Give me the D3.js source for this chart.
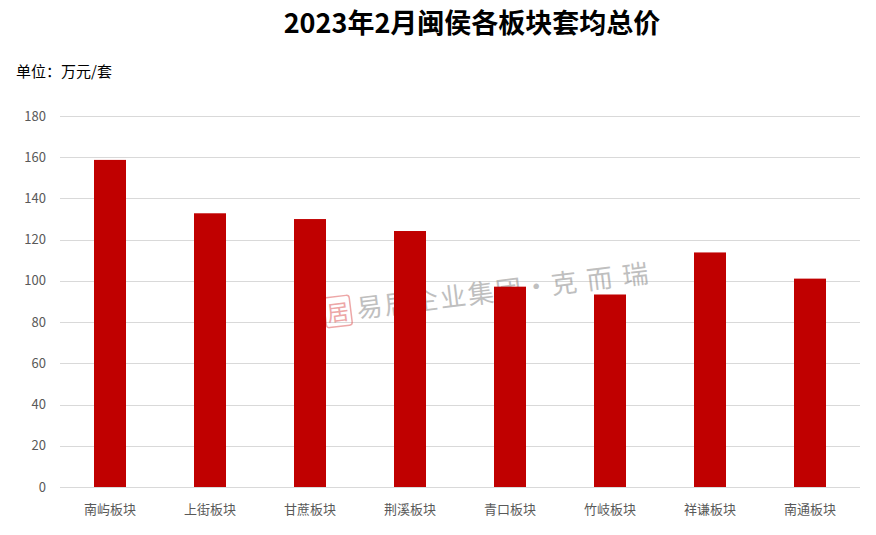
<!DOCTYPE html>
<html>
<head>
<meta charset="utf-8">
<script src="https://cdn.jsdelivr.net/npm/d3@7"></script>
<style>
  body { margin: 0; background: #fff; }
  svg { display: block; font-family: "Noto Sans CJK SC", "Noto Sans", sans-serif; }
</style>
</head>
<body>
<svg id="chart" width="876" height="535"></svg>
<script>
// data
var categories = ['南屿板块', '上街板块', '甘蔗板块', '荆溪板块', '青口板块', '竹岐板块', '祥谦板块', '南通板块'];
var values = [158.7, 132.8, 130.0, 124.2, 97.2, 93.4, 113.8, 101.1];
var yTicks = [0, 20, 40, 60, 80, 100, 120, 140, 160, 180];

var svg = d3.select('#chart');
// note: "top" is taken by window.top, so plotTop etc.
var plotLeft = 60, plotRight = 860, plotTop = 116, plotBottom = 487;

var x = d3.scaleBand()
  .domain(categories)
  .range([plotLeft, plotRight])
  .paddingInner(0.68)
  .paddingOuter(0.34);

var y = d3.scaleLinear()
  .domain([0, 180])
  .range([plotBottom, plotTop]);

// title
svg.append('text')
  .attr('x', 472).attr('y', 33)
  .attr('text-anchor', 'middle')
  .attr('font-size', 27)
  .attr('font-weight', 'bold')
  .attr('fill', '#000')
  .text('2023年2月闽侯各板块套均总价');

svg.append('text')
  .attr('x', 16).attr('y', 77)
  .attr('font-size', 15)
  .attr('fill', '#000')
  .text('单位：万元/套');

// gridlines
svg.append('g')
  .selectAll('line')
  .data(yTicks).enter()
  .append('line')
  .attr('x1', plotLeft).attr('x2', plotRight)
  .attr('y1', function(d) { return Math.round(y(d)) + 0.5; })
  .attr('y2', function(d) { return Math.round(y(d)) + 0.5; })
  .attr('stroke', '#d9d9d9')
  .attr('stroke-width', 1);

// y tick labels
svg.append('g')
  .selectAll('text')
  .data(yTicks).enter()
  .append('text')
  .attr('x', 46)
  .attr('y', function(d) { return y(d); })
  .attr('dy', '0.35em')
  .attr('text-anchor', 'end')
  .attr('font-size', 13)
  .attr('fill', '#595959')
  .text(function(d) { return d; });

// watermark behind the bars
var wm = svg.append('g')
  .attr('transform', 'translate(326,322) rotate(-7)')
  .attr('opacity', 0.55);
wm.append('rect')
  .attr('x', 0).attr('y', -24).attr('width', 26).attr('height', 30)
  .attr('rx', 3)
  .attr('fill', 'none').attr('stroke', '#e06060').attr('stroke-width', 1.5);
wm.append('text')
  .attr('x', 13).attr('y', 0)
  .attr('text-anchor', 'middle')
  .attr('font-size', 22)
  .attr('fill', '#e06060')
  .text('居');
wm.append('text')
  .attr('x', 32).attr('y', 0)
  .attr('font-size', 26)
  .attr('fill', '#8c8c8c')
  .attr('letter-spacing', 2)
  .text('易居企业集团·克 而 瑞');

// bars
svg.append('g')
  .selectAll('rect')
  .data(values).enter()
  .append('rect')
  .attr('x', function(d, i) { return x(categories[i]); })
  .attr('y', function(d) { return y(d); })
  .attr('width', x.bandwidth())
  .attr('height', function(d) { return plotBottom - y(d); })
  .attr('fill', '#c00000');

// x labels
svg.append('g')
  .selectAll('text')
  .data(categories).enter()
  .append('text')
  .attr('x', function(d) { return x(d) + x.bandwidth() / 2; })
  .attr('y', 514)
  .attr('text-anchor', 'middle')
  .attr('font-size', 13)
  .attr('fill', '#595959')
  .text(function(d) { return d; });
</script>
</body>
</html>
